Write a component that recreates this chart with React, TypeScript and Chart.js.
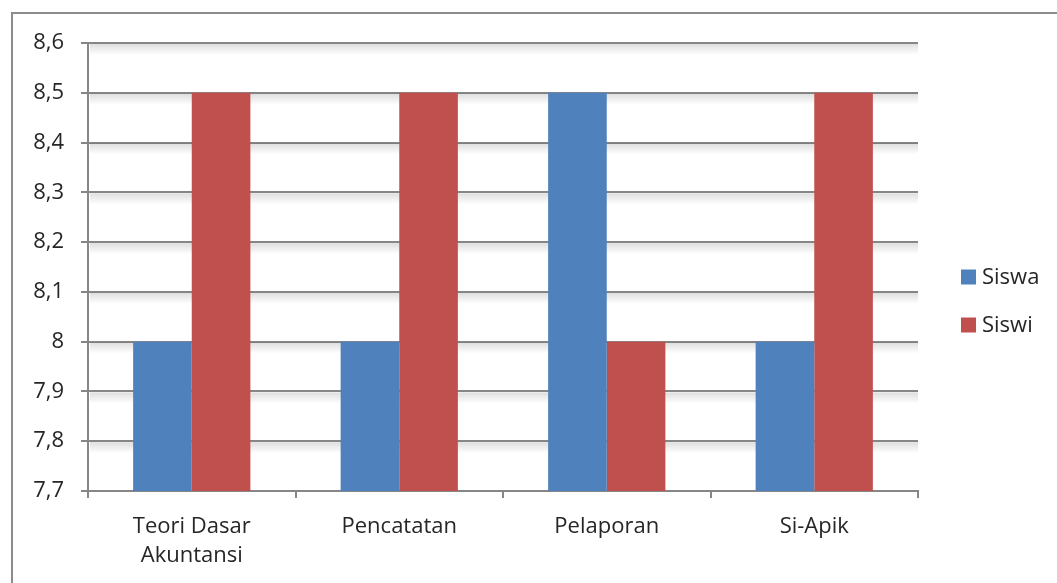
import React, { useEffect, useRef } from "react";
import { Chart, registerables } from "chart.js";

Chart.register(...registerables);

const categories: (string | string[])[] = [["Teori Dasar", "Akuntansi"], "Pencatatan", "Pelaporan", "Si-Apik"];
const siswa: number[] = [8.0, 8.0, 8.5, 8.0];
const siswi: number[] = [8.5, 8.5, 8.0, 8.5];
const seriesNames: string[] = ["Siswa", "Siswi"];
const seriesColors: string[] = ["#4F81BD", "#C0504D"];
const yMin = 7.7;
const yMax = 8.6;
const yStep = 0.1;

const FONT = "'Open Sans', sans-serif";
const TEXT = "#262626";
const GRID = "#868686";

const shadowAndLegend = {
  id: "shadowAndLegend",
  beforeDatasetsDraw(chart: any) {
    const ctx = chart.ctx;
    const area = chart.chartArea;
    const y = chart.scales.y;
    ctx.save();
    y.ticks.forEach((t: any) => {
      const py = y.getPixelForValue(t.value);
      if (Math.abs(py - area.bottom) < 1) return;
      const g = ctx.createLinearGradient(0, py + 1, 0, py + 12);
      g.addColorStop(0, "rgba(0,0,0,0.13)");
      g.addColorStop(1, "rgba(0,0,0,0)");
      ctx.fillStyle = g;
      ctx.fillRect(area.left + 2, py + 1, area.right - area.left - 2, 11);
    });
    ctx.restore();
  },
  afterDraw(chart: any) {
    const ctx = chart.ctx;
    ctx.save();
    const ys = [277, 325];
    chart.data.datasets.forEach((ds: any, i: number) => {
      ctx.fillStyle = ds.backgroundColor;
      ctx.fillRect(961, ys[i] - 7.5, 15, 15);
      ctx.fillStyle = TEXT;
      ctx.font = `22px ${FONT}`;
      ctx.textBaseline = "middle";
      ctx.textAlign = "left";
      ctx.fillText(ds.label, 982, ys[i] + 1);
    });
    ctx.restore();
  },
};

export default function App() {
  const ref = useRef<HTMLCanvasElement | null>(null);
  useEffect(() => {
    if (!ref.current) return;
    const chart = new Chart(ref.current, {
      type: "bar",
      data: {
        labels: categories,
        datasets: [
          { label: seriesNames[0], data: siswa, backgroundColor: seriesColors[0], categoryPercentage: 0.565, barPercentage: 1 },
          { label: seriesNames[1], data: siswi, backgroundColor: seriesColors[1], categoryPercentage: 0.565, barPercentage: 1 },
        ],
      },
      options: {
        animation: false,
        responsive: false,
        maintainAspectRatio: false,
        layout: { padding: { left: 0, top: 43, right: 139, bottom: 0 } },
        plugins: { legend: { display: false }, tooltip: { enabled: false } },
        scales: {
          x: {
            afterFit: (s: any) => { s.height = 92; },
            grid: { display: true, drawOnChartArea: false, drawTicks: true, tickLength: 7, color: GRID, lineWidth: 2, offset: true },
            border: { display: true, color: GRID, width: 2 },
            ticks: { color: TEXT, font: { family: FONT, size: 22, lineHeight: 1.28 }, padding: 15, maxRotation: 0 },
          },
          y: {
            min: yMin,
            max: yMax,
            afterFit: (s: any) => { s.width = 88; },
            grid: { color: GRID, lineWidth: 2, tickLength: 7 },
            border: { display: true, color: GRID, width: 2 },
            ticks: {
              stepSize: yStep,
              color: TEXT,
              padding: 17,
              font: { family: FONT, size: 22 },
              callback: (v: any) => String(Number(Number(v).toFixed(1))).replace(".", ","),
            },
          },
        },
      },
      plugins: [shadowAndLegend],
    });
    return () => chart.destroy();
  }, []);
  return (
    <div style={{ position: "absolute", left: 0, top: 0, width: 1057, height: 583, overflow: "hidden", background: "#fff" }}>
      <div style={{ position: "absolute", left: 11, top: 12, width: 1200, height: 800, border: "2px solid #8c8c8c" }} />
      <canvas ref={ref} width={1057} height={583} style={{ position: "absolute", left: 0, top: 0 }} />
    </div>
  );
}
